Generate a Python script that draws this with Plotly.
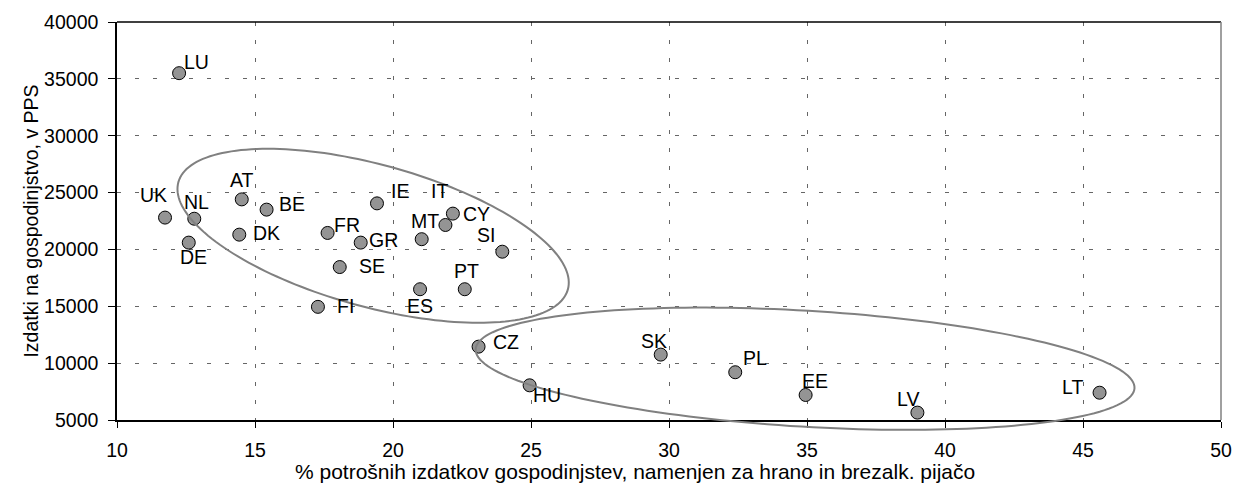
import numpy as np
import plotly.graph_objects as go

# ---- data ----
countries = ["LU", "UK", "NL", "DE", "AT", "DK", "BE", "FR", "GR", "SE", "FI", "IE",
             "MT", "IT", "CY", "SI", "ES", "PT", "CZ", "HU", "SK", "PL", "EE", "LV", "LT"]
food_share = [12.25, 11.74, 12.8, 12.6, 14.52, 14.43, 15.42, 17.63, 18.83, 18.07, 17.28, 19.42,
              21.04, 21.9, 22.17, 23.96, 20.98, 22.6, 23.1, 24.95, 29.7, 32.4, 34.95, 39.0, 45.6]
spending_pps = [35500, 22800, 22700, 20600, 24400, 21300, 23500, 21450, 20600, 18450, 14950, 24050,
                20900, 22150, 23150, 19800, 16500, 16500, 11450, 8050, 10750, 9200, 7200, 5650, 7400]
# label offsets in pixels (dx right, dy down)
label_dx = [17, -12, 2, 5, 0, 27, 25, 19, 23, 32, 28, 23, 3, -6, 24, -16, 0, 2, 27, 17, -7, 20, 9, -9, -27]
label_dy = [-11, -23, -17, 14, -19, -2, -6, -8, -3, -1, -1, -12, -18, -34, 0, -17, 17, -18, -5, 10, -14, -14, -14, -14, -6]

x_range = [10, 50]
y_range = [5000, 40000]
x_ticks = [10, 15, 20, 25, 30, 35, 40, 45, 50]
y_ticks = [5000, 10000, 15000, 20000, 25000, 30000, 35000, 40000]
y_tick_text = [str(v) for v in y_ticks]

x_title = "% potrošnih izdatkov gospodinjstev, namenjen za hrano in brezalk. pijačo"
y_title = "Izdatki na gospodinjstvo, v PPS"

# ellipses: centre in data units, half-axes in pixels, tilt in degrees (down-right positive)
ellipses = [
    dict(cx=19.28, cy=21200, a=202, b=71, tilt=15.4),
    dict(cx=34.93, cy=9510, a=330, b=58, tilt=3.4),
]

W, H = 1235, 485
M = dict(l=117, r=14, t=22, b=65)
PW = W - M["l"] - M["r"]
PH = H - M["t"] - M["b"]

FONT = "Liberation Sans, Arial, sans-serif"
FS = 19.5

fig = go.Figure()
fig.add_trace(go.Scatter(
    x=food_share, y=spending_pps, mode="markers",
    marker=dict(size=13, color="#949494", line=dict(color="#000000", width=1)),
    cliponaxis=False, hoverinfo="text", text=countries, showlegend=False,
))

for c, xv, yv, dx, dy in zip(countries, food_share, spending_pps, label_dx, label_dy):
    fig.add_annotation(x=xv, y=yv, text=c, showarrow=False, xshift=dx, yshift=-dy,
                       font=dict(family=FONT, size=FS, color="#000000"))


def ellipse_path(e):
    t = np.linspace(0, 2 * np.pi, 181)
    th = np.deg2rad(e["tilt"])
    dxp = e["a"] * np.cos(th) * np.cos(t) - e["b"] * np.sin(th) * np.sin(t)
    dyp = e["a"] * np.sin(th) * np.cos(t) + e["b"] * np.cos(th) * np.sin(t)  # down positive
    px0 = (e["cx"] - x_range[0]) / (x_range[1] - x_range[0])
    py0 = (e["cy"] - y_range[0]) / (y_range[1] - y_range[0])
    px = px0 + dxp / PW
    py = py0 - dyp / PH
    pts = [f"{a:.5f},{b:.5f}" for a, b in zip(px, py)]
    return "M " + " L ".join(pts) + " Z"


for e in ellipses:
    fig.add_shape(type="path", path=ellipse_path(e), xref="paper", yref="paper",
                  line=dict(color="#808080", width=2), layer="above")

# top border (black) and right border (gray)
fig.add_shape(type="line", xref="paper", yref="paper", x0=0, x1=1, y0=1, y1=1,
              line=dict(color="#000000", width=1.5))
fig.add_shape(type="line", xref="paper", yref="paper", x0=1, x1=1, y0=0, y1=1,
              line=dict(color="#808080", width=1.5))

# x-axis title (offset to the left like the reference)
fig.add_annotation(xref="paper", yref="paper", x=0.469, y=-(52 / PH), text=x_title,
                   showarrow=False, xanchor="center", yanchor="middle",
                   font=dict(family=FONT, size=21, color="#000000"))

fig.update_layout(
    width=W, height=H, margin=M,
    paper_bgcolor="#ffffff", plot_bgcolor="#ffffff",
    font=dict(family=FONT, size=FS, color="#000000"),
    xaxis=dict(range=x_range, tickvals=x_ticks, ticks="outside", ticklen=6, tickcolor="#000",
               ticklabelstandoff=6,
               showline=True, linecolor="#000", linewidth=1.5, zeroline=False, automargin=False,
               showgrid=True, gridcolor="#666666", griddash="4px,14px", gridwidth=1,
               tickfont=dict(family=FONT, size=FS)),
    yaxis=dict(range=y_range, tickvals=y_ticks, ticktext=y_tick_text, ticks="outside", ticklen=7,
               tickcolor="#000", ticklabelstandoff=6,
               showline=True, linecolor="#000", linewidth=1.5, zeroline=False, automargin=False,
               showgrid=True, gridcolor="#666666", griddash="4px,14px", gridwidth=1,
               title=dict(text=y_title, font=dict(family=FONT, size=FS), standoff=0),
               tickfont=dict(family=FONT, size=FS)),
)

fig.write_html("out.html", config={"displayModeBar": False},
               post_script="document.body.style.margin='0';document.body.style.overflow='hidden';")
